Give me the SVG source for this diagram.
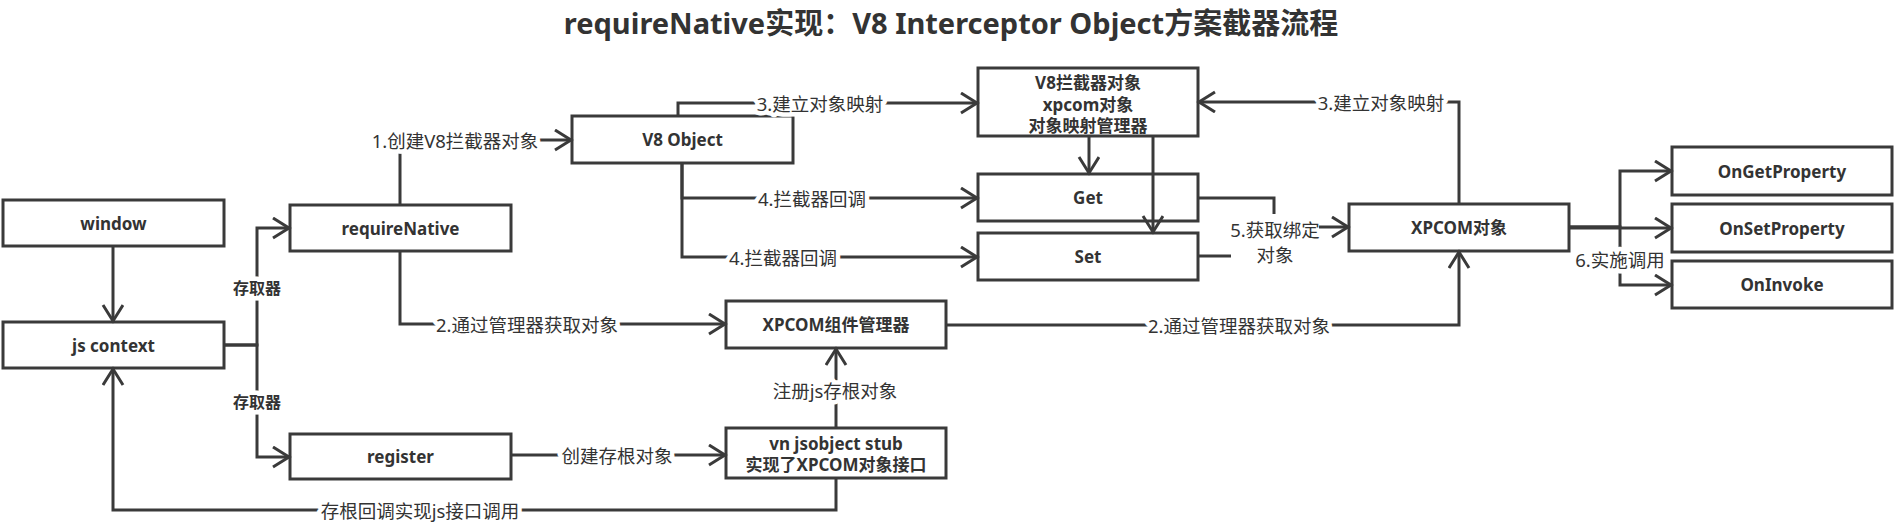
<svg xmlns="http://www.w3.org/2000/svg" width="1901" height="529" viewBox="0 0 1901 529">
<style>
  .box { fill: #fff; stroke: #3a3a3a; stroke-width: 3; }
  .nt { font-family: "Noto Sans", "Noto Sans CJK SC", sans-serif; font-weight: bold; font-size: 17px; fill: #333; text-anchor: middle; dominant-baseline: central; }
  .title { font-family: "Noto Sans", "Noto Sans CJK SC", sans-serif; font-weight: bold; font-size: 29px; fill: #333; text-anchor: middle; dominant-baseline: central; }
  .ln { fill: none; stroke: #3a3a3a; stroke-width: 3; }
  .arr { marker-end: url(#ah); }
  .lbl { font-family: "Noto Sans", "Noto Sans CJK SC", sans-serif; font-size: 18.5px; fill: #333; text-anchor: middle; dominant-baseline: central; stroke: #fff; stroke-width: 9; stroke-linejoin: round; paint-order: stroke; }
  .lblb { font-family: "Noto Sans", "Noto Sans CJK SC", sans-serif; font-weight: bold; font-size: 16px; fill: #333; text-anchor: middle; dominant-baseline: central; stroke: #fff; stroke-width: 9; stroke-linejoin: round; paint-order: stroke; }
  .lbln { font-family: "Noto Sans", "Noto Sans CJK SC", sans-serif; font-size: 18.5px; fill: #333; text-anchor: middle; dominant-baseline: central; }
</style>
<defs>
  <marker id="ah" markerUnits="userSpaceOnUse" markerWidth="20" markerHeight="24" refX="17" refY="11" orient="auto">
    <path d="M1,1 L17,11 L1,21" fill="none" stroke="#3a3a3a" stroke-width="3"/>
  </marker>
</defs>
<rect width="1901" height="529" fill="#fff"/>
<text class="title" x="951" y="22">requireNative实现：V8 Interceptor Object方案截器流程</text>

<g id="node-window"><rect class="box" x="3" y="200" width="221" height="46"/><text class="nt" x="113.5" y="223">window</text></g>
<g id="node-jscontext"><rect class="box" x="3" y="322" width="221" height="46"/><text class="nt" x="113.5" y="345">js context</text></g>
<g id="node-requireNative"><rect class="box" x="290" y="205" width="221" height="46"/><text class="nt" x="400.5" y="228">requireNative</text></g>
<g id="node-register"><rect class="box" x="290" y="434" width="221" height="45"/><text class="nt" x="400.5" y="456.5">register</text></g>
<g id="node-v8object"><rect class="box" x="572" y="116" width="221" height="47"/><text class="nt" x="682.5" y="139.5">V8 Object</text></g>
<g id="node-v8interceptor"><rect class="box" x="978" y="68" width="220" height="68"/>
  <text class="nt" x="1088" y="82">V8拦截器对象</text>
  <text class="nt" x="1088" y="104">xpcom对象</text>
  <text class="nt" x="1088" y="125">对象映射管理器</text></g>
<g id="node-get"><rect class="box" x="978" y="174" width="220" height="47"/><text class="nt" x="1088" y="197.5">Get</text></g>
<g id="node-set"><rect class="box" x="978" y="233" width="220" height="47"/><text class="nt" x="1088" y="256.5">Set</text></g>
<g id="node-xpcomobj"><rect class="box" x="1349" y="204" width="220" height="47"/><text class="nt" x="1459" y="227.5">XPCOM对象</text></g>
<g id="node-ongetproperty"><rect class="box" x="1672" y="147" width="220" height="48"/><text class="nt" x="1782" y="171">OnGetProperty</text></g>
<g id="node-onsetproperty"><rect class="box" x="1672" y="204" width="220" height="48"/><text class="nt" x="1782" y="228">OnSetProperty</text></g>
<g id="node-oninvoke"><rect class="box" x="1672" y="261" width="220" height="47"/><text class="nt" x="1782" y="284.5">OnInvoke</text></g>
<g id="node-manager"><rect class="box" x="726" y="301" width="220" height="47"/><text class="nt" x="836" y="324.5">XPCOM组件管理器</text></g>
<g id="node-stub"><rect class="box" x="726" y="428" width="220" height="50"/>
  <text class="nt" x="836" y="443">vn jsobject stub</text>
  <text class="nt" x="836" y="464">实现了XPCOM对象接口</text></g>

<g id="connectors">
  <path class="ln arr" d="M113,246 V321"/>
  <path class="ln arr" d="M224,345 H257 V228 H289"/>
  <path class="ln arr" d="M224,345 H257 V457 H289"/>
  <path class="ln arr" d="M400,205 V140 H571"/>
  <path class="ln arr" d="M400,251 V324 H725"/>
  <path class="ln arr" d="M511,455 H725"/>
  <path class="ln arr" d="M836,428 V349"/>
  <path class="ln arr" d="M836,478 V510 H113 V369"/>
  <path class="ln arr" d="M678,116 V103 H977"/>
  <path class="ln arr" d="M682,163 V198 H977"/>
  <path class="ln arr" d="M682,163 V257 H977"/>
  <path class="ln arr" d="M1089,136 V173"/>
  <path class="ln arr" d="M1153,136 V232"/>
  <path class="ln arr" d="M1198,198 H1274 V227 H1348"/>
  <path class="ln" d="M1198,256 H1274 V227"/>
  <path class="ln arr" d="M1459,204 V102 H1199"/>
  <path class="ln arr" d="M946,325 H1459 V252"/>
  <path class="ln arr" d="M1569,227 H1620 V171 H1671"/>
  <path class="ln arr" d="M1569,228 H1671"/>
  <path class="ln arr" d="M1569,227 H1620 V285 H1671"/>

  <text class="lbl" x="455" y="140">1.创建V8拦截器对象</text>
  <text class="lblb" x="257" y="288">存取器</text>
  <text class="lblb" x="257" y="402">存取器</text>
  <text class="lbl" x="527" y="324">2.通过管理器获取对象</text>
  <text class="lbl" x="617" y="455">创建存根对象</text>
  <text class="lbl" x="835" y="390">注册js存根对象</text>
  <text class="lbl" x="420" y="510">存根回调实现js接口调用</text>
  <text class="lbl" x="820" y="103">3.建立对象映射</text>
  <text class="lbl" x="812" y="198">4.拦截器回调</text>
  <text class="lbl" x="783" y="257">4.拦截器回调</text>
  <rect x="1231" y="214" width="88" height="54" fill="#fff"/>
  <text class="lbln" x="1275" y="229">5.获取绑定</text>
  <text class="lbln" x="1275" y="254">对象</text>
  <text class="lbl" x="1381" y="102">3.建立对象映射</text>
  <text class="lbl" x="1239" y="325">2.通过管理器获取对象</text>
  <text class="lbl" x="1620" y="259">6.实施调用</text>
</g>
</svg>
